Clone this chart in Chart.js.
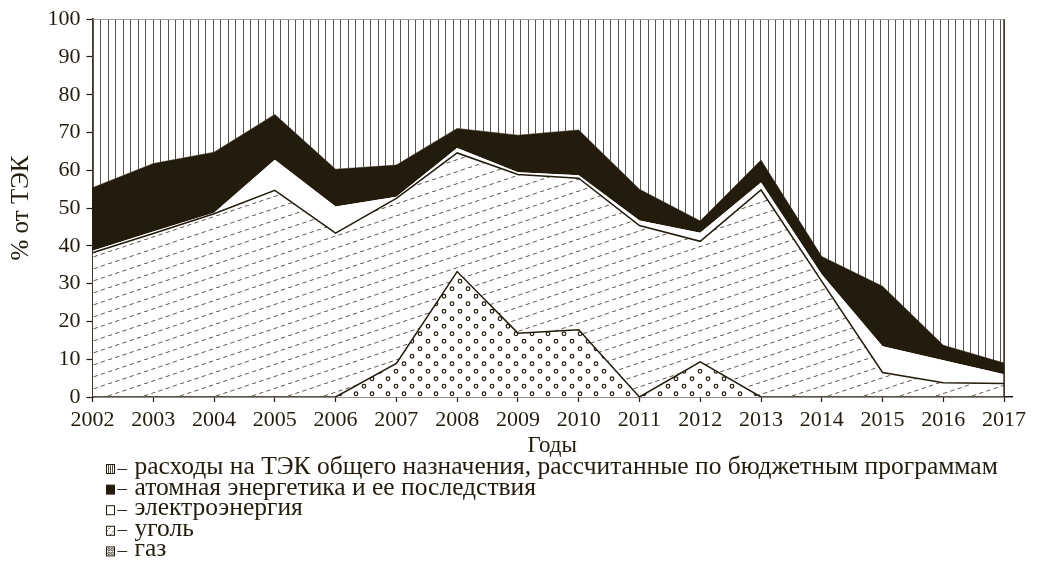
<!DOCTYPE html>
<html>
<head>
<meta charset="utf-8">
<script src="https://cdn.jsdelivr.net/npm/chart.js@4/dist/chart.umd.min.js"></script>
<style>
  html, body { margin: 0; padding: 0; background: #fff; }
  #wrap { width: 1041px; height: 563px; }
</style>
</head>
<body>
<div id="wrap"><canvas id="myChart" width="1041" height="563"></canvas></div>
<script>
// годы и доли (% от ТЭК)
const years = [2002, 2003, 2004, 2005, 2006, 2007, 2008, 2009, 2010, 2011, 2012, 2013, 2014, 2015, 2016, 2017];
const gas         = [0, 0, 0, 0, 0, 8.9, 33.2, 16.9, 17.8, 0, 9.3, 0, 0, 0, 0, 0];
const coal        = [38.2, 43.3, 48.5, 54.7, 43.4, 43.7, 31.4, 42.0, 40.1, 45.4, 31.9, 54.8, 30.6, 6.5, 3.8, 3.6];
const electricity = [0.5, 0.5, 0.3, 8.1, 7.0, 0.4, 1.3, 0.6, 0.8, 1.3, 2.3, 2.0, 1.8, 6.9, 5.9, 2.4];
const nuclear     = [16.7, 18.0, 16.0, 12.0, 9.9, 8.4, 5.2, 9.8, 12.0, 8.3, 3.1, 5.9, 4.8, 15.9, 4.0, 3.0];
const general     = [44.6, 38.2, 35.2, 25.2, 39.7, 38.6, 28.9, 30.7, 29.3, 45.0, 53.4, 37.3, 62.8, 70.7, 86.3, 91.0];

const seriesNames = [
  'газ',
  'уголь',
  'электроэнергия',
  'атомная энергетика и ее последствия',
  'расходы на ТЭК общего назначения, рассчитанные по бюджетным программам'
];

const ink = '#231b0c';
const hatchGrey = '#57524b';

const canvas = document.getElementById('myChart');
const ctx = canvas.getContext('2d');

function makePattern(w, h, draw) {
  const c = document.createElement('canvas');
  c.width = w;
  c.height = h;
  const g = c.getContext('2d');
  g.fillStyle = '#fff';
  g.fillRect(0, 0, w, h);
  draw(g);
  return ctx.createPattern(c, 'repeat');
}

// вертикальная штриховка
const vLines = makePattern(15, 4, g => {
  g.strokeStyle = hatchGrey;
  g.lineWidth = 1;
  g.beginPath();
  g.moveTo(3.5, 0); g.lineTo(3.5, 4);
  g.moveTo(10.5, 0); g.lineTo(10.5, 4);
  g.stroke();
});

// пунктирная косая штриховка (уголь)
const dashes = makePattern(36, 12, g => {
  g.strokeStyle = '#5f5a53';
  g.lineWidth = 1;
  g.setLineDash([4.3, 3.29]);
  g.beginPath();
  g.moveTo(0, 12); g.lineTo(36, 0);
  g.stroke();
});

// кружки (газ)
const rings = makePattern(16, 15, g => {
  g.strokeStyle = ink;
  g.lineWidth = 1.2;
  [[4, 3.75], [12, 11.25]].forEach(([x, y]) => {
    g.beginPath();
    g.arc(x, y, 1.8, 0, Math.PI * 2);
    g.stroke();
  });
});

const data = {
  labels: years,
  datasets: [
    {
      label: seriesNames[0],
      data: gas,
      fill: 'origin',
      backgroundColor: rings,
      borderColor: ink,
      borderWidth: 1.5
    },
    {
      label: seriesNames[1],
      data: coal,
      fill: '-1',
      backgroundColor: dashes,
      borderColor: ink,
      borderWidth: 1.5
    },
    {
      label: seriesNames[2],
      data: electricity,
      fill: '-1',
      backgroundColor: '#fff',
      borderColor: 'rgba(0,0,0,0)',
      borderWidth: 0
    },
    {
      label: seriesNames[3],
      data: nuclear,
      fill: '-1',
      backgroundColor: ink,
      borderColor: ink,
      borderWidth: 0.5
    },
    {
      label: seriesNames[4],
      data: general,
      fill: '-1',
      backgroundColor: vLines,
      borderColor: '#8a857e',
      borderWidth: 1.5
    }
  ]
};

// значки легенды: штриховка, черный, пустой, косые, кружки
function drawSwatch(c, kind, x, y, w, h) {
  c.save();
  c.strokeStyle = ink;
  c.fillStyle = ink;
  c.lineWidth = 1;
  if (kind === 'black') c.fillRect(x, y, w, h);
  c.beginPath();
  c.rect(x, y, w, h);
  c.clip();
  if (kind === 'vlines') {
    c.lineWidth = 0.8;
    c.beginPath();
    for (let i = 2; i < w; i += 2) { c.moveTo(x + i, y); c.lineTo(x + i, y + h); }
    c.stroke();
  } else if (kind === 'dash') {
    c.lineWidth = 0.8;
    c.setLineDash([2, 1.5]);
    c.beginPath();
    c.moveTo(x, y + h * 0.6); c.lineTo(x + w * 0.6, y);
    c.moveTo(x + w * 0.4, y + h); c.lineTo(x + w, y + h * 0.4);
    c.stroke();
  } else if (kind === 'rings') {
    c.lineWidth = 0.8;
    [[0.3, 0.3], [0.72, 0.3], [0.3, 0.72], [0.72, 0.72]].forEach(([px, py]) => {
      c.beginPath();
      c.arc(x + w * px, y + h * py, 1.2, 0, Math.PI * 2);
      c.stroke();
    });
  }
  c.restore();
  c.strokeStyle = ink;
  c.lineWidth = 1;
  c.strokeRect(x, y, w, h);
}

const swatchKinds = ['rings', 'dash', 'empty', 'black', 'vlines'];

// легенда списком под осью
const listLegend = {
  id: 'listLegend',
  afterDraw(chart) {
    const c = chart.ctx;
    const items = chart.data.datasets.map((ds, i) => ({ label: ds.label, kind: swatchKinds[i] })).reverse();
    c.save();
    c.textBaseline = 'alphabetic';
    items.forEach((it, i) => {
      const base = 474 + i * 20.6;
      drawSwatch(c, it.kind, 106.5, base - 9.5, 8, 9);
      c.fillStyle = ink;
      c.font = '19px "Liberation Serif", serif';
      c.fillText('–', 117.5, base - 0.5);
      c.font = '25.5px "Liberation Serif", serif';
      c.fillText(it.label, 134.5, base);
    });
    c.restore();
  }
};

// правая граница поля на 2017 г.
const rightEdge = {
  id: 'rightEdge',
  afterDatasetsDraw(chart) {
    const x = chart.scales.x.getPixelForValue(years[years.length - 1]);
    const y = chart.scales.y;
    const c = chart.ctx;
    c.save();
    c.strokeStyle = ink;
    c.lineWidth = 1.5;
    c.beginPath();
    c.moveTo(x, y.getPixelForValue(0));
    c.lineTo(x, y.getPixelForValue(100));
    c.stroke();
    c.restore();
  }
};

Chart.defaults.font.family = '"Liberation Serif", serif';
Chart.defaults.color = ink;

const config = {
  type: 'line',
  data: data,
  options: {
    responsive: false,
    animation: false,
    events: [],
    layout: { padding: { left: 0, right: 29, top: 13, bottom: 103 } },
    elements: { point: { radius: 0 }, line: { tension: 0 } },
    plugins: {
      legend: { display: false },
      tooltip: { enabled: false }
    },
    scales: {
      x: {
        type: 'linear',
        min: 2002,
        max: 2017.13,
        afterBuildTicks: s => { s.ticks = years.map(v => ({ value: v })); },
        afterFit: s => { s.height = 63; },
        ticks: {
          padding: 5,
          maxRotation: 0,
          autoSkip: false,
          font: { size: 22 },
          callback: v => String(v)
        },
        grid: { drawOnChartArea: false, tickLength: 5, color: ink, tickWidth: 1.2 },
        border: { color: ink, width: 1.5 },
        title: { display: true, text: 'Годы', font: { size: 23 }, padding: { top: 0, bottom: 0 } }
      },
      y: {
        stacked: true,
        min: 0,
        max: 100,
        afterFit: s => { s.width = 92.5; },
        ticks: { stepSize: 10, padding: 6, font: { size: 22 } },
        grid: { drawOnChartArea: false, tickLength: 6, color: ink, tickWidth: 1.2 },
        border: { color: ink, width: 1.5 },
        title: { display: true, text: '% от ТЭК', font: { size: 25 }, padding: { top: 6, bottom: 0 } }
      }
    }
  },
  plugins: [rightEdge, listLegend]
};

var myChart = new Chart(canvas, config);
</script>
</body>
</html>
